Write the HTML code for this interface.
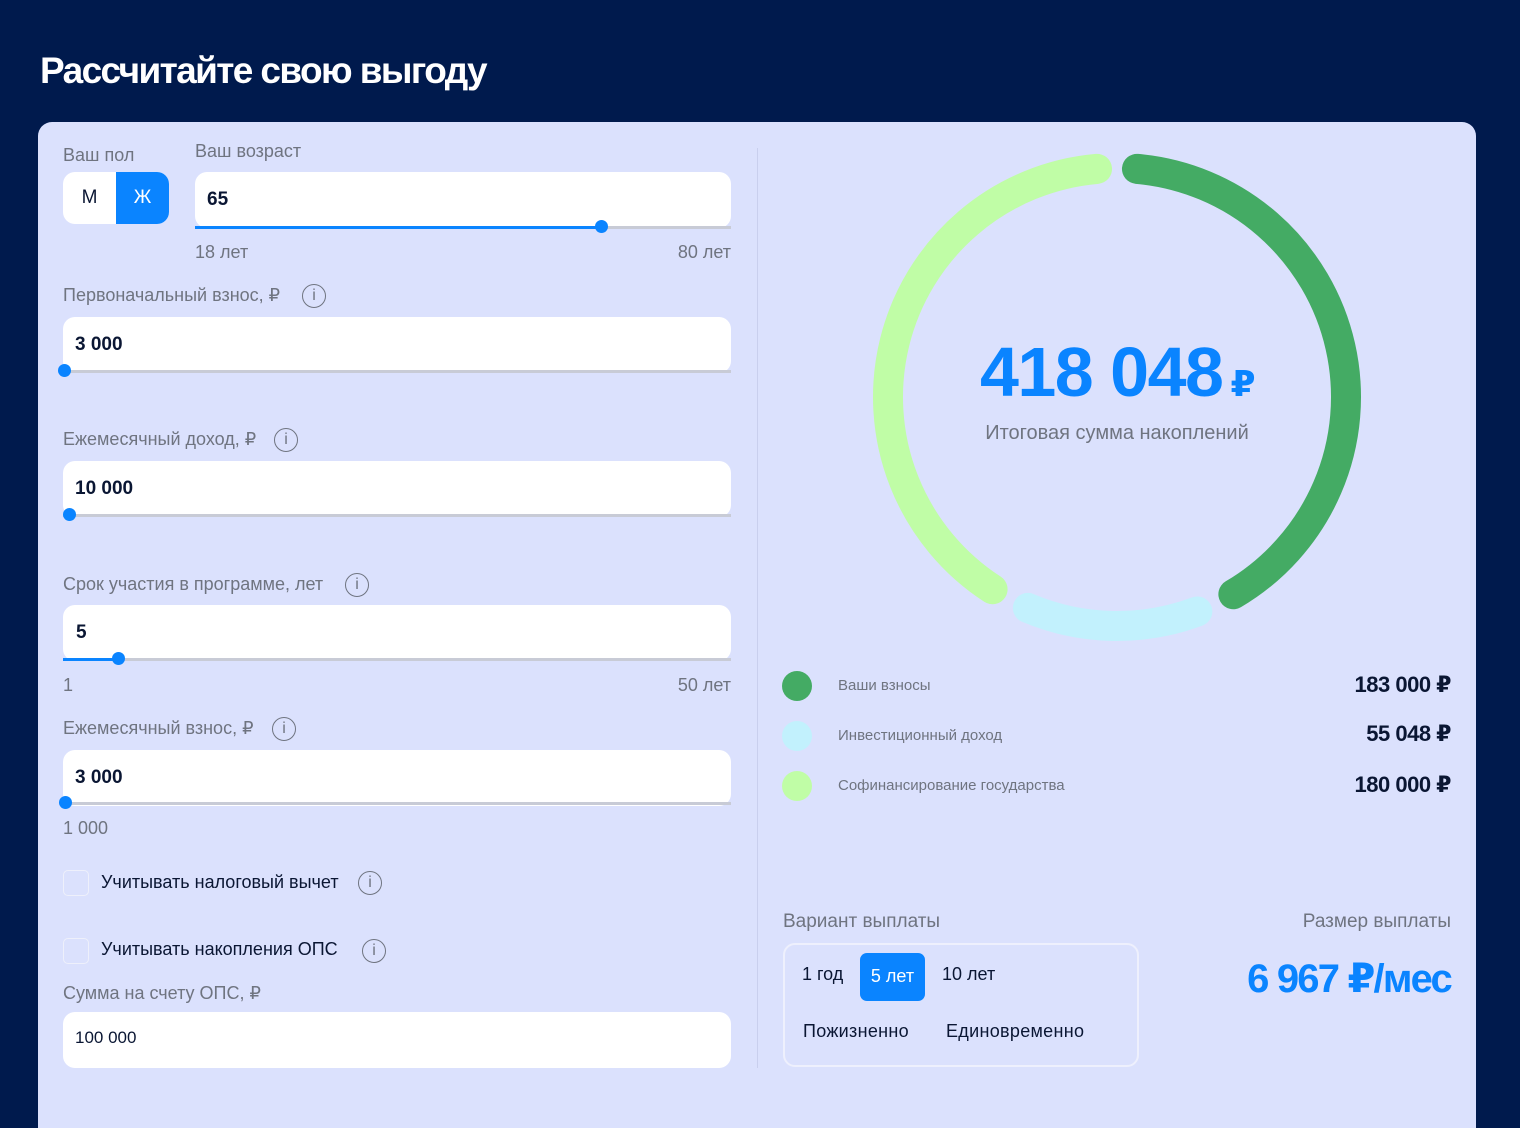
<!DOCTYPE html>
<html><head><meta charset="utf-8">
<style>
*{box-sizing:border-box;margin:0;padding:0}
html,body{width:1520px;height:1128px;overflow:hidden}
body{background:#001a4d;font-family:"Liberation Sans","DejaVu Sans",sans-serif;position:relative}
.a{position:absolute;white-space:nowrap}
.t{font-size:37px;font-weight:bold;color:#fff;left:40px;top:50px;letter-spacing:-1.6px}
.card{left:38px;top:122px;width:1438px;height:1030px;background:#dbe1fd;border-radius:14px}
.lbl{font-size:18px;color:#6f7480}
.inp{background:#fff;border-radius:12px;height:56px}
.val{font-size:19px;font-weight:bold;color:#0a1633}
.track{height:3px;background:#c8cbd6}
.fill{height:3px;background:#0a84ff}
.thumb{width:13px;height:13px;border-radius:50%;background:#0a84ff}
.info{width:24px;height:24px;border:1.5px solid #6f7480;border-radius:50%;font-size:16px;color:#6f7480;text-align:center;line-height:21px}
.cb{width:26px;height:26px;border:1.5px solid #eef0fb;border-radius:5px;background:#dbe1fd}
.cbl{font-size:18px;color:#0a1633}
.lg{font-size:15px;color:#6f7480}
.lv{font-size:22px;color:#0a1633;text-align:right;font-weight:bold;letter-spacing:-0.5px}
.dot{width:30px;height:30px;border-radius:50%}
.opt{font-size:18px;color:#0a1633}
</style></head><body>
<div class="a t">Рассчитайте свою выгоду</div>
<div class="a card"></div>

<div class="a lbl" style="left:63px;top:145px">Ваш пол</div>
<div class="a" style="left:63px;top:172px;width:106px;height:52px;border-radius:12px;overflow:hidden;background:#fff">
 <div class="a" style="left:0;top:0;width:53px;height:52px;line-height:52px;text-align:center;font-size:19px;color:#0a1633">М</div>
 <div class="a" style="left:53px;top:0;width:53px;height:52px;line-height:52px;text-align:center;font-size:19px;color:#fff;background:#0a84ff">Ж</div>
</div>
<div class="a lbl" style="left:195px;top:141px">Ваш возраст</div>
<div class="a inp" style="left:195px;top:172px;width:536px"></div>
<div class="a val" style="left:207px;top:189px">65</div>
<div class="a track" style="left:195px;top:226px;width:536px"></div>
<div class="a fill" style="left:195px;top:226px;width:406px"></div>
<div class="a thumb" style="left:595px;top:220px"></div>
<div class="a lbl" style="left:195px;top:242px">18 лет</div>
<div class="a lbl" style="left:631px;top:242px;width:100px;text-align:right">80 лет</div>

<div class="a lbl" style="left:63px;top:285px">Первоначальный взнос, ₽</div>
<div class="a info" style="left:302px;top:284px">i</div>
<div class="a inp" style="left:63px;top:317px;width:668px"></div>
<div class="a val" style="left:75px;top:334px">3 000</div>
<div class="a track" style="left:63px;top:370px;width:668px"></div>
<div class="a thumb" style="left:58px;top:364px"></div>

<div class="a lbl" style="left:63px;top:429px">Ежемесячный доход, ₽</div>
<div class="a info" style="left:274px;top:428px">i</div>
<div class="a inp" style="left:63px;top:461px;width:668px"></div>
<div class="a val" style="left:75px;top:478px">10 000</div>
<div class="a track" style="left:63px;top:514px;width:668px"></div>
<div class="a thumb" style="left:63px;top:508px"></div>

<div class="a lbl" style="left:63px;top:574px">Срок участия в программе, лет</div>
<div class="a info" style="left:345px;top:573px">i</div>
<div class="a inp" style="left:63px;top:605px;width:668px"></div>
<div class="a val" style="left:76px;top:622px">5</div>
<div class="a track" style="left:63px;top:658px;width:668px"></div>
<div class="a fill" style="left:63px;top:658px;width:55px"></div>
<div class="a thumb" style="left:112px;top:652px"></div>
<div class="a lbl" style="left:63px;top:675px">1</div>
<div class="a lbl" style="left:631px;top:675px;width:100px;text-align:right">50 лет</div>

<div class="a lbl" style="left:63px;top:718px">Ежемесячный взнос, ₽</div>
<div class="a info" style="left:272px;top:717px">i</div>
<div class="a inp" style="left:63px;top:750px;width:668px"></div>
<div class="a val" style="left:75px;top:767px">3 000</div>
<div class="a track" style="left:63px;top:802px;width:668px"></div>
<div class="a thumb" style="left:59px;top:796px"></div>
<div class="a lbl" style="left:63px;top:818px">1 000</div>

<div class="a cb" style="left:63px;top:870px"></div>
<div class="a cbl" style="left:101px;top:872px">Учитывать налоговый вычет</div>
<div class="a info" style="left:358px;top:871px">i</div>
<div class="a cb" style="left:63px;top:938px"></div>
<div class="a cbl" style="left:101px;top:939px">Учитывать накопления ОПС</div>
<div class="a info" style="left:362px;top:939px">i</div>
<div class="a lbl" style="left:63px;top:983px">Сумма на счету ОПС, ₽</div>
<div class="a inp" style="left:63px;top:1012px;width:668px"></div>
<div class="a" style="left:75px;top:1028px;font-size:17px;color:#0a1633">100 000</div>

<div class="a" style="left:757px;top:148px;width:1px;height:920px;background:#c9cfee"></div>

<svg class="a" style="left:0;top:0" width="1520" height="1128" id="donut"></svg>
<div class="a" style="left:917px;top:332px;width:400px;text-align:center;color:#0a84ff;font-weight:bold;font-size:70px;letter-spacing:-1.5px">418 048<span style="font-size:36px;margin-left:8px">₽</span></div>
<div class="a" style="left:917px;top:422px;width:400px;text-align:center;color:#6f7480;font-size:20px">Итоговая сумма накоплений</div>

<div class="a dot" style="left:782px;top:671px;background:#44ab64"></div>
<div class="a lg" style="left:838px;top:677px">Ваши взносы</div>
<div class="a lv" style="left:1251px;top:672px;width:200px">183 000 ₽</div>
<div class="a dot" style="left:782px;top:721px;background:#c2f1fd"></div>
<div class="a lg" style="left:838px;top:727px">Инвестиционный доход</div>
<div class="a lv" style="left:1251px;top:721px;width:200px">55 048 ₽</div>
<div class="a dot" style="left:782px;top:771px;background:#c0fda6"></div>
<div class="a lg" style="left:838px;top:777px">Софинансирование государства</div>
<div class="a lv" style="left:1251px;top:772px;width:200px">180 000 ₽</div>

<div class="a" style="left:783px;top:911px;font-size:19px;color:#6f7480">Вариант выплаты</div>
<div class="a" style="left:783px;top:943px;width:356px;height:124px;border:2px solid #eef0fd;border-radius:12px"></div>
<div class="a opt" style="left:802px;top:964px">1 год</div>
<div class="a" style="left:860px;top:953px;width:65px;height:48px;background:#0a84ff;border-radius:7px;color:#fff;font-size:18px;text-align:center;line-height:46px">5 лет</div>
<div class="a opt" style="left:942px;top:964px">10 лет</div>
<div class="a opt" style="left:803px;top:1021px;letter-spacing:0.3px">Пожизненно</div>
<div class="a opt" style="left:946px;top:1021px;letter-spacing:0.3px">Единовременно</div>
<div class="a" style="left:1200px;top:911px;width:251px;text-align:right;font-size:19px;color:#6f7480">Размер выплаты</div>
<div class="a" style="left:1150px;top:956px;width:301px;text-align:right;font-size:40px;font-weight:bold;color:#0a84ff;letter-spacing:-1.8px">6 967 ₽/мес</div>

<script>
const categories = ["Ваши взносы", "Инвестиционный доход", "Софинансирование государства"];
const values = [183000, 55048, 180000];
const colors = ["#44ab64", "#c2f1fd", "#c0fda6"];
const svg = document.getElementById('donut');
const cx = 1117, cy = 397, r = 229, gap = 10;
const total = values.reduce((a, b) => a + b, 0);
const avail = 360 - gap * values.length;
function pt(deg) { const a = (deg - 90) * Math.PI / 180; return [cx + r * Math.cos(a), cy + r * Math.sin(a)]; }
let start = gap / 2;
values.forEach((v, i) => {
  const span = v / total * avail;
  const end = start + span;
  const p0 = pt(start), p1 = pt(end);
  const p = document.createElementNS('http://www.w3.org/2000/svg', 'path');
  p.setAttribute('d', `M${p0[0]},${p0[1]} A${r},${r} 0 ${span > 180 ? 1 : 0} 1 ${p1[0]},${p1[1]}`);
  p.setAttribute('fill', 'none');
  p.setAttribute('stroke', colors[i]);
  p.setAttribute('stroke-width', '30');
  p.setAttribute('stroke-linecap', 'round');
  
  
  svg.appendChild(p);
  start = end + gap;
});
</script>
</body></html>
